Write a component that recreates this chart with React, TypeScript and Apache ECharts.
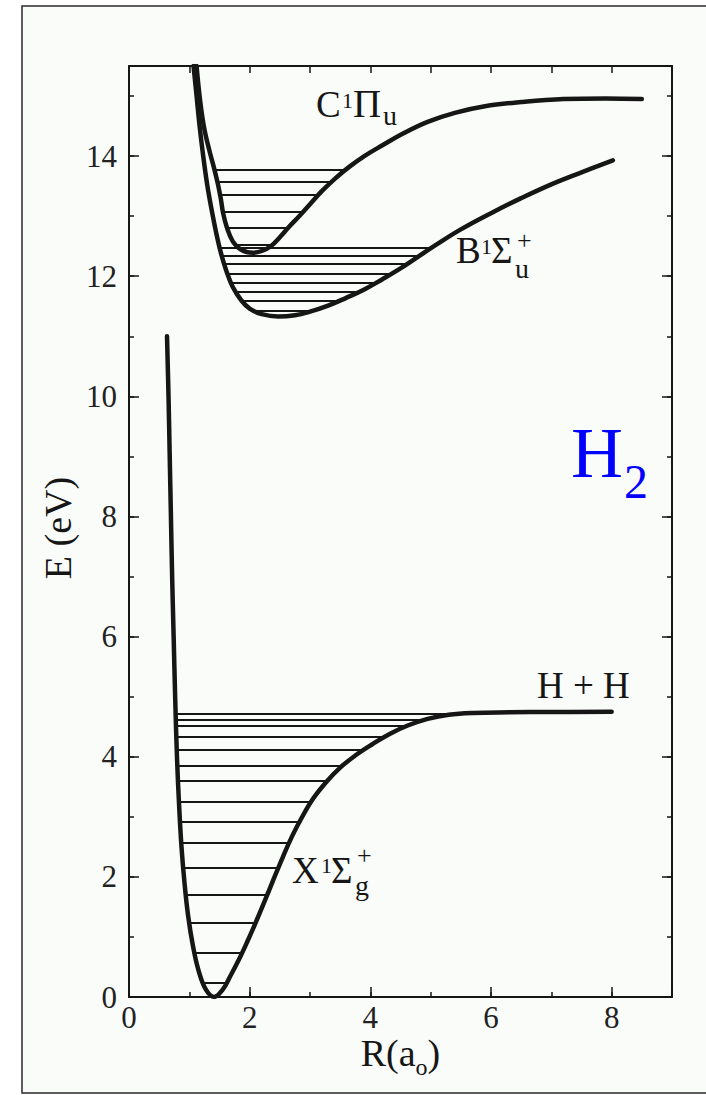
import React, { useEffect, useRef } from "react";
import * as echarts from "echarts";

const FONT = "Liberation Serif, Times New Roman, serif";
const INK = "#161616";

// Axis ranges and tick steps
const X_MIN = 0;
const X_MAX = 9;
const Y_MIN = 0;
const Y_MAX = 15.5;
const MAJOR_STEP = 2;
const MINOR_STEP = 1;

// Ground state X 1Σg+ : R (a0) and E (eV)
const groundR = [0.63, 0.655, 0.675, 0.695, 0.715, 0.74, 0.765, 0.795, 0.83, 0.87, 0.92, 0.98, 1.06, 1.15, 1.27, 1.41, 1.55, 1.68, 1.82, 1.96, 2.1, 2.25, 2.4, 2.55, 2.7, 2.86, 3.05, 3.27, 3.5, 3.75, 4.02, 4.32, 4.62, 4.95, 5.3, 5.7, 6.3, 7.0, 8.0];
const groundE = [11.0, 10.0, 9.0, 8.0, 7.0, 6.0, 5.0, 4.0, 3.2, 2.5, 1.9, 1.35, 0.85, 0.45, 0.13, 0.0, 0.12, 0.35, 0.62, 0.92, 1.24, 1.6, 1.97, 2.33, 2.67, 2.98, 3.3, 3.58, 3.82, 4.02, 4.2, 4.38, 4.52, 4.63, 4.7, 4.73, 4.74, 4.745, 4.75];

// Ground state vibrational levels
const groundLevelE = [0.24, 0.74, 1.24, 1.71, 2.16, 2.57, 2.92, 3.25, 3.6, 3.85, 4.11, 4.34, 4.51, 4.62, 4.72];
const groundLevelLeft = [1.23, 1.08, 1.0, 0.94, 0.9, 0.866, 0.85, 0.83, 0.81, 0.8, 0.79, 0.785, 0.78, 0.777, 0.775];
const groundLevelRight = [1.62, 1.88, 2.1, 2.29, 2.48, 2.66, 2.83, 3.02, 3.29, 3.54, 3.87, 4.25, 4.6, 4.92, 5.5];

// B 1Σu+ state
const bStateR = [1.07, 1.12, 1.17, 1.23, 1.3, 1.38, 1.45, 1.52, 1.61, 1.72, 1.86, 2.0, 2.2, 2.47, 2.75, 3.0, 3.3, 3.6, 3.9, 4.2, 4.5, 4.8, 5.1, 5.5, 6.0, 6.5, 7.0, 7.5, 8.02];
const bStateE = [15.5, 15.0, 14.5, 14.0, 13.5, 13.05, 12.7, 12.4, 12.1, 11.82, 11.6, 11.46, 11.37, 11.33, 11.35, 11.41, 11.51, 11.64, 11.78, 11.95, 12.13, 12.33, 12.53, 12.78, 13.05, 13.3, 13.53, 13.73, 13.93];
const bLevelE = [11.42, 11.59, 11.74, 11.89, 12.04, 12.2, 12.34, 12.47];
const bLevelLeft = [2.09, 1.87, 1.77, 1.69, 1.63, 1.58, 1.54, 1.5];
const bLevelRight = [3.03, 3.48, 3.81, 4.1, 4.35, 4.6, 4.81, 4.99];

// C 1Πu state
const cStateR = [1.12, 1.17, 1.24, 1.33, 1.41, 1.47, 1.52, 1.56, 1.62, 1.72, 1.86, 2.05, 2.2, 2.35, 2.5, 2.65, 2.82, 3.0, 3.2, 3.42, 3.65, 3.9, 4.2, 4.55, 4.95, 5.4, 5.9, 6.5, 7.2, 7.9, 8.5];
const cStateE = [15.5, 15.0, 14.5, 14.1, 13.8, 13.55, 13.3, 13.05, 12.82, 12.58, 12.44, 12.39, 12.42, 12.5, 12.65, 12.82, 13.0, 13.2, 13.42, 13.63, 13.82, 14.0, 14.18, 14.38, 14.57, 14.72, 14.83, 14.9, 14.95, 14.96, 14.95];
const cLevelE = [12.53, 12.81, 13.07, 13.35, 13.58, 13.78];
const cLevelLeft = [1.77, 1.625, 1.557, 1.51, 1.463, 1.415];
const cLevelRight = [2.38, 2.64, 2.88, 3.14, 3.37, 3.6];

type Piece = { t: string; x: number; base: number; fs: number; fill?: string };

const stateLabels: Piece[] = [
  // C 1Πu
  { t: "C", x: 316, base: 117, fs: 37 },
  { t: "1", x: 342, base: 108, fs: 22 },
  { t: "Π", x: 353, base: 117, fs: 39 },
  { t: "u", x: 383, base: 125, fs: 28 },
  // B 1Σu+
  { t: "B", x: 456, base: 263, fs: 37 },
  { t: "1", x: 481, base: 254, fs: 22 },
  { t: "Σ", x: 491, base: 263, fs: 37 },
  { t: "u", x: 515, base: 278, fs: 28 },
  { t: "+", x: 517, base: 249, fs: 26 },
  // X 1Σg+
  { t: "X", x: 292, base: 883, fs: 37 },
  { t: "1", x: 321, base: 873, fs: 22 },
  { t: "Σ", x: 331, base: 883, fs: 37 },
  { t: "g", x: 355, base: 895, fs: 28 },
  { t: "+", x: 357, base: 864, fs: 26 },
  // dissociation limit
  { t: "H + H", x: 537, base: 698, fs: 37 },
  // molecule
  { t: "H", x: 571, base: 477, fs: 72, fill: "#0000ff" },
  { t: "2", x: 624, base: 498, fs: 48, fill: "#0000ff" },
];

function measure(text: string, fs: number): number {
  const c = document.createElement("canvas").getContext("2d");
  if (!c) return text.length * fs * 0.5;
  c.font = `${fs}px "Liberation Serif"`;
  return c.measureText(text).width;
}

function pieceEl(p: Piece) {
  return {
    type: "text",
    x: p.x,
    y: p.base - 0.34 * p.fs,
    z: 10,
    silent: true,
    style: {
      text: p.t,
      fill: p.fill || INK,
      fontSize: p.fs,
      fontFamily: FONT,
      textAlign: "left",
      verticalAlign: "middle",
    },
  };
}

function App() {
  const ref = useRef<HTMLDivElement>(null);

  useEffect(() => {
    if (!ref.current) return;
    const chart = echarts.init(ref.current, null, { renderer: "svg" });

    const tickLine = { color: INK, width: 1.5 };
    const axisLine = { show: true, onZero: false, lineStyle: { color: INK, width: 2 } };
    const noAxisLine = { show: false, onZero: false };
    const labelStyle = { fontSize: 31, fontFamily: FONT, color: "#222" };
    const evenOnly = (v: number) => (Math.abs(v % MAJOR_STEP) < 1e-9 ? String(v) : "");

    const levelData = (E: number[], L: number[], R: number[]) =>
      E.map((e, i) => ({ coords: [[L[i], e], [R[i], e]] }));

    const curve = (R: number[], E: number[]) => ({
      type: "line",
      xAxisIndex: 0,
      yAxisIndex: 0,
      data: R.map((r, i) => [r, E[i]]),
      showSymbol: false,
      symbol: "none",
      smooth: 0.4,
      lineStyle: { color: INK, width: 4.5, cap: "round", join: "round" },
      silent: true,
      z: 3,
    });

    const levels = (E: number[], L: number[], R: number[]) => ({
      type: "lines",
      coordinateSystem: "cartesian2d",
      xAxisIndex: 0,
      yAxisIndex: 0,
      polyline: false,
      data: levelData(E, L, R),
      lineStyle: { color: INK, width: 2, opacity: 1 },
      silent: true,
      z: 2,
    });

    // x-axis title R(a_o), centred on the axis
    const titleFs = 38;
    const subFs = 24;
    const wA = measure("R(a", titleFs);
    const wO = measure("o", subFs);
    const wC = measure(")", titleFs);
    const totalW = wA + wO + wC;
    const titleX0 = 129 + (706 - 129 - 34) / 2 - totalW / 2;
    const titleBase = 1066;
    const xTitle: Piece[] = [
      { t: "R(a", x: titleX0, base: titleBase, fs: titleFs },
      { t: "o", x: titleX0 + wA, base: titleBase + 9, fs: subFs },
      { t: ")", x: titleX0 + wA + wO, base: titleBase, fs: titleFs },
    ];

    const option: any = {
      animation: false,
      backgroundColor: "#ffffff",
      grid: { left: 129, right: 34, top: 66, bottom: 98, outerBoundsMode: "none" },
      xAxis: [
        {
          type: "value", position: "bottom", min: X_MIN, max: X_MAX, interval: MAJOR_STEP,
          axisLine, axisTick: { show: true, inside: true, length: 10, lineStyle: tickLine },
          axisLabel: { ...labelStyle, margin: 5, formatter: evenOnly },
          splitLine: { show: false },
        },
        {
          type: "value", position: "bottom", min: X_MIN, max: X_MAX, interval: MINOR_STEP,
          axisLine: noAxisLine, axisTick: { show: true, inside: true, length: 5, lineStyle: tickLine },
          axisLabel: { show: false }, splitLine: { show: false },
        },
        {
          type: "value", position: "top", min: X_MIN, max: X_MAX, interval: MINOR_STEP,
          axisLine, axisTick: { show: true, inside: true, length: 7, lineStyle: tickLine },
          axisLabel: { show: false }, splitLine: { show: false },
        },
      ],
      yAxis: [
        {
          type: "value", position: "left", min: Y_MIN, max: Y_MAX, interval: MAJOR_STEP,
          axisLine, axisTick: { show: true, inside: true, length: 10, lineStyle: tickLine },
          axisLabel: { ...labelStyle, margin: 12, formatter: evenOnly },
          splitLine: { show: false },
        },
        {
          type: "value", position: "left", min: Y_MIN, max: Y_MAX, interval: MINOR_STEP,
          axisLine: noAxisLine, axisTick: { show: true, inside: true, length: 5, lineStyle: tickLine },
          axisLabel: { show: false }, splitLine: { show: false },
        },
        {
          type: "value", position: "right", min: Y_MIN, max: Y_MAX, interval: MAJOR_STEP,
          axisLine, axisTick: { show: true, inside: true, length: 10, lineStyle: tickLine },
          axisLabel: { show: false }, splitLine: { show: false },
        },
        {
          type: "value", position: "right", min: Y_MIN, max: Y_MAX, interval: MINOR_STEP,
          axisLine: noAxisLine, axisTick: { show: true, inside: true, length: 5, lineStyle: tickLine },
          axisLabel: { show: false }, splitLine: { show: false },
        },
      ],
      series: [
        levels(groundLevelE, groundLevelLeft, groundLevelRight),
        levels(bLevelE, bLevelLeft, bLevelRight),
        levels(cLevelE, cLevelLeft, cLevelRight),
        curve(groundR, groundE),
        curve(bStateR, bStateE),
        curve(cStateR, cStateE),
      ],
      graphic: [
        {
          type: "rect",
          z: -10,
          silent: true,
          shape: { x: 22, y: 6, width: 720, height: 1087 },
          style: { fill: "#fafcfa", stroke: "#2a2a2a", lineWidth: 1.5 },
        },
        {
          type: "text",
          x: 58,
          y: 528,
          rotation: Math.PI / 2,
          z: 10,
          silent: true,
          style: {
            text: "E (eV)",
            fill: INK,
            fontSize: 38,
            fontFamily: FONT,
            textAlign: "center",
            verticalAlign: "middle",
          },
        },
        ...xTitle.map(pieceEl),
        ...stateLabels.map(pieceEl),
      ],
    };

    chart.setOption(option);
    return () => chart.dispose();
  }, []);

  return (
    <div
      ref={ref}
      style={{ position: "fixed", left: 0, top: 0, width: 706, height: 1095, background: "#fff" }}
    />
  );
}

export default App;
